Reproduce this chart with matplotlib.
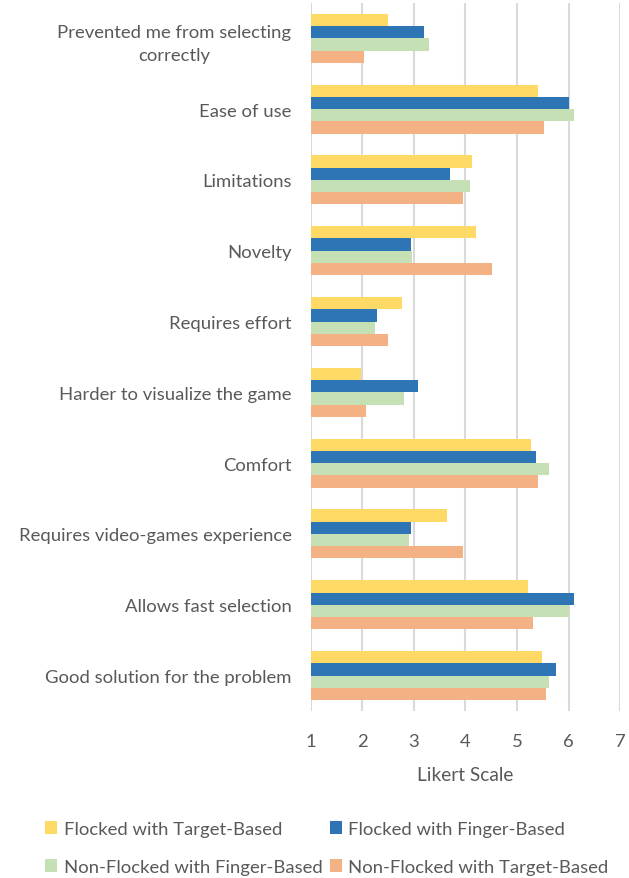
import numpy as np
import matplotlib.pyplot as plt

plt.rcParams['font.family'] = ['Lato', 'DejaVu Sans']

categories = ["Prevented me from selecting\ncorrectly", "Ease of use", "Limitations", "Novelty",
              "Requires effort", "Harder to visualize the game", "Comfort",
              "Requires video-games experience", "Allows fast selection",
              "Good solution for the problem"]

flocked_target = [2.50, 5.40, 4.13, 4.21, 2.76, 1.98, 5.27, 3.64, 5.22, 5.49]
flocked_finger = [3.20, 6.01, 3.69, 2.95, 2.28, 3.07, 5.36, 2.95, 6.10, 5.75]
nonflocked_finger = [3.29, 6.10, 4.09, 2.97, 2.24, 2.81, 5.62, 2.90, 6.01, 5.62]
nonflocked_target = [2.02, 5.53, 3.96, 4.52, 2.50, 2.06, 5.40, 3.95, 5.31, 5.57]

series = [("Flocked with Target-Based", flocked_target, "#FFD966"),
          ("Flocked with Finger-Based", flocked_finger, "#2E75B6"),
          ("Non-Flocked with Finger-Based", nonflocked_finger, "#C5E0B4"),
          ("Non-Flocked with Target-Based", nonflocked_target, "#F4B183")]

gray = "#595959"
fs = 13.3
fig = plt.figure(figsize=(6.29, 8.79), dpi=100)
ax = fig.add_axes([0.4944, 0.19, 0.4913, 0.8056])

y = np.arange(len(categories))
h = 0.173
for i, (name, vals, col) in enumerate(series):
    v = np.array(vals)
    ax.barh(y + (i - 1.5) * h, v - 1, left=1, height=h, color=col, label=name, zorder=3)

ax.set_ylim(len(categories) - 0.5, -0.5)
ax.set_xlim(1, 7)
ax.set_xticks(range(1, 8))
ax.set_yticks(y)
ax.set_yticklabels(categories, ha='right', multialignment='center')
for lab in ax.get_yticklabels():
    lab.set_linespacing(1.55)
ax.tick_params(axis='y', length=0, pad=14, labelsize=fs, labelcolor=gray)
ax.tick_params(axis='x', length=0, pad=16, labelsize=fs, labelcolor=gray)
ax.grid(axis='x', color='#d9d9d9', linewidth=1.5, zorder=0)
for s in ax.spines.values():
    s.set_visible(False)
ax.set_xlabel("Likert Scale", fontsize=fs + 0.5, color=gray, labelpad=12)

handles, labels = ax.get_legend_handles_labels()
order = [0, 2, 1, 3]
fig.legend([handles[k] for k in order], [labels[k] for k in order], ncol=2,
           loc='center', bbox_to_anchor=(0.52, 1 - 849 / 879),
           frameon=False, fontsize=fs, labelcolor=gray, handlelength=0.65, handleheight=0.65,
           handletextpad=0.35, columnspacing=0.4, labelspacing=1.2)

plt.savefig("out.png")
